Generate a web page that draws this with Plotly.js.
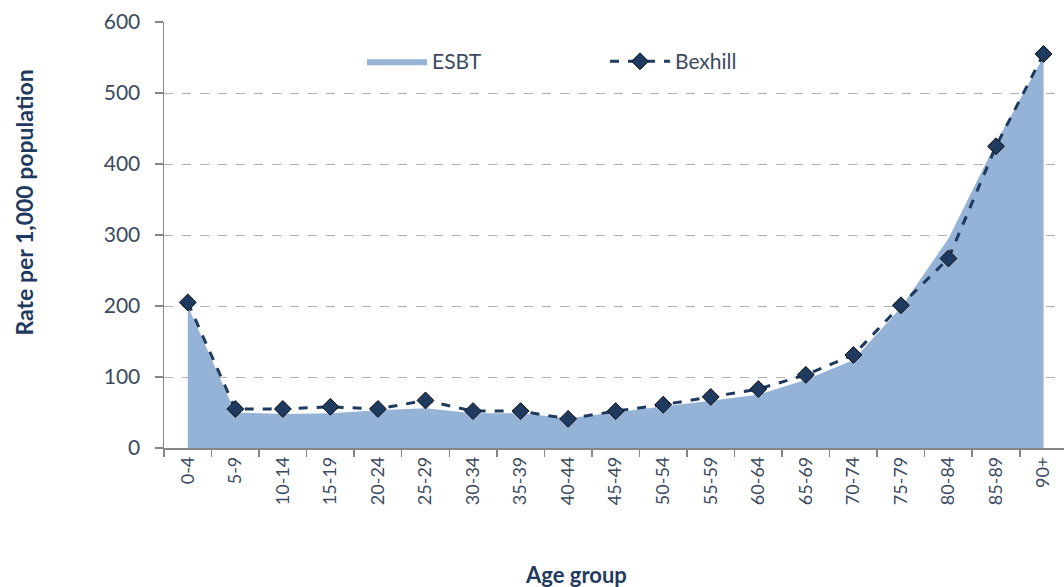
<!DOCTYPE html>
<html>
<head>
<meta charset="utf-8">
<script src="https://cdn.plot.ly/plotly-3.0.1.min.js"></script>
<style>html,body{margin:0;padding:0;background:#fff;}#chart{width:1064px;height:587px;}</style>
</head>
<body>
<div id="chart"></div>
<script>
var ageGroups = ["0-4","5-9","10-14","15-19","20-24","25-29","30-34","35-39","40-44","45-49","50-54","55-59","60-64","65-69","70-74","75-79","80-84","85-89","90+"];
var esbtValues = [200,50,48,49,53,56,49,49,42,50,58,67,75,96,124,198,295,430,551];
var bexhillValues = [205,55,55,58,55,67,52,52,41,52,61,72,83,103,131,201,267,425,555];

var fontFam = "Lato, 'Open Sans', sans-serif";
var txtCol = "#3b4a5e";

var traces = [
  {
    type: "scatter", mode: "lines", name: "ESBT",
    x: ageGroups, y: esbtValues,
    fill: "tozeroy", fillcolor: "#95b3d7",
    line: {color: "#95b3d7", width: 0},
    hoverinfo: "x+y"
  },
  {
    type: "scatter", mode: "lines+markers", name: "Bexhill",
    x: ageGroups, y: bexhillValues,
    line: {color: "#1f3a5f", width: 3, dash: "dash"},
    marker: {symbol: "diamond", size: 13, color: "#1f3a5f", line: {color: "#111", width: 1}}
  }
];

var layout = {
  width: 1064, height: 587,
  margin: {l: 164, r: 0, t: 22, b: 139},
  paper_bgcolor: "#fff", plot_bgcolor: "#fff",
  showlegend: true,
  legend: {
    orientation: "h", x: 0.22, y: 0.907, xanchor: "left", yanchor: "middle",
    font: {family: fontFam, size: 21, color: txtCol},
    entrywidth: 168, entrywidthmode: "pixels", itemwidth: 60,
    bgcolor: "rgba(0,0,0,0)"
  },
  xaxis: {
    type: "category",
    range: [-0.5, 18.43],
    showgrid: false,
    showline: true, linecolor: "#868686", linewidth: 1.5,
    ticks: "outside", ticklen: 7, tickcolor: "#868686", tickwidth: 1.5,
    tickson: "boundaries",
    tickangle: -90,
    tickfont: {family: fontFam, size: 18, color: txtCol},
    zeroline: false, fixedrange: true
  },
  yaxis: {
    range: [0, 600],
    tickvals: [0,100,200,300,400,500,600],
    showgrid: true, gridcolor: "#b0b0b0", griddash: "dash", gridwidth: 1,
    showline: true, linecolor: "#868686", linewidth: 1.5,
    ticks: "outside", ticklen: 8, tickcolor: "#868686", tickwidth: 1.5,
    ticklabelstandoff: 10,
    tickfont: {family: fontFam, size: 21, color: txtCol},
    zeroline: false, fixedrange: true
  },
  annotations: [
    {text: "<b>Rate per 1,000 population</b>", xref: "paper", yref: "paper",
     x: -0.155, y: 0.575, xanchor: "center", yanchor: "middle", textangle: -90, showarrow: false,
     font: {family: fontFam, size: 23, color: "#1f3a5f"}},
    {text: "<b>Age group</b>", xref: "paper", yref: "paper",
     x: 0.458, y: -0.298, xanchor: "center", yanchor: "middle", showarrow: false,
     font: {family: fontFam, size: 22, color: "#1f3a5f"}}
  ]
};

Plotly.newPlot("chart", traces, layout, {displayModeBar: false, staticPlot: true});
</script>
</body>
</html>
